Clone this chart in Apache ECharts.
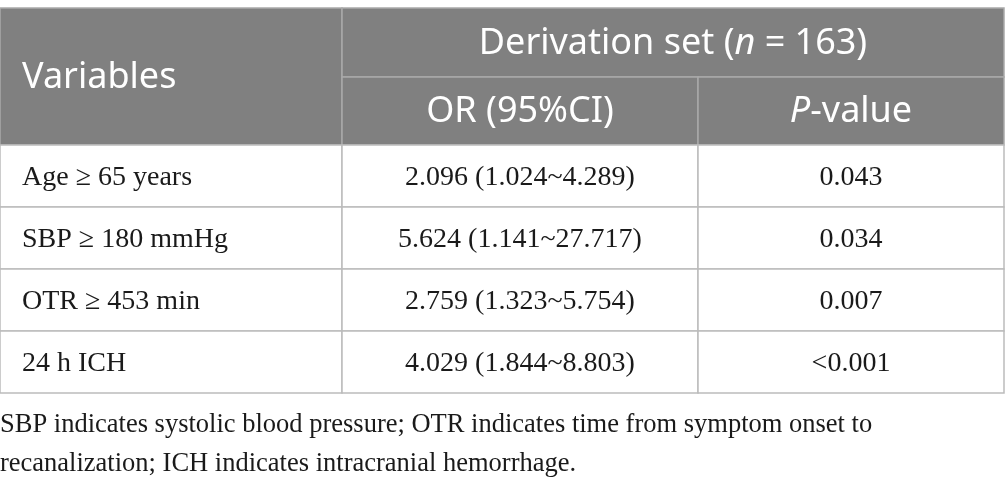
<!DOCTYPE html>
<html>
<head>
<meta charset="utf-8">
<script src="https://cdn.jsdelivr.net/npm/echarts@6/dist/echarts.min.js"></script>
<style>
html,body{margin:0;padding:0;background:#fff;}
#main{width:1005px;height:487px;}
</style>
</head>
<body>
<div id="main"></div>
<script>
// ---- table content ----
const groupHeader = 'Derivation set (n = 163)';
const columnHeaders = ['Variables', 'OR (95%CI)', 'P-value'];
const variables = ['Age \u2265 65 years', 'SBP \u2265 180 mmHg', 'OTR \u2265 453 min', '24 h ICH'];
const orValues = ['2.096', '5.624', '2.759', '4.029'];
const ciLower = ['1.024', '1.141', '1.323', '1.844'];
const ciUpper = ['4.289', '27.717', '5.754', '8.803'];
const pValues = ['0.043', '0.034', '0.007', '<0.001'];
const footnoteLines = [
  'SBP indicates systolic blood pressure; OTR indicates time from symptom onset to',
  'recanalization; ICH indicates intracranial hemorrhage.'
];

// ---- layout (pixel-like axis units) ----
const colEdges = [0, 342, 698, 1004];
const rowEdges = [8, 77, 145, 207, 269, 331, 393];
const headFont = '"Noto Sans", "Open Sans", sans-serif';
const bodyFont = '"Liberation Serif", "Times New Roman", serif';
const headColor = '#808080';
const lineColor = '#bcbcbc';

const cells = [];
cells.push({value: [colEdges[0], colEdges[1], rowEdges[0], rowEdges[2]], kind: 'head', text: '{h|' + columnHeaders[0] + '}', align: 'left'});
cells.push({value: [colEdges[1], colEdges[3], rowEdges[0], rowEdges[1]], kind: 'head', text: '{h|Derivation set (}{hi|n}{h| = 163)}', align: 'center'});
cells.push({value: [colEdges[1], colEdges[2], rowEdges[1], rowEdges[2]], kind: 'head', text: '{h|' + columnHeaders[1] + '}', align: 'center'});
cells.push({value: [colEdges[2], colEdges[3], rowEdges[1], rowEdges[2]], kind: 'head', text: '{hi|P}{h|-value}', align: 'center'});
variables.forEach(function (v, i) {
  const y0 = rowEdges[i + 2], y1 = rowEdges[i + 3];
  cells.push({value: [colEdges[0], colEdges[1], y0, y1], kind: 'body', text: v, align: 'left'});
  cells.push({value: [colEdges[1], colEdges[2], y0, y1], kind: 'body', text: orValues[i] + ' (' + ciLower[i] + '~' + ciUpper[i] + ')', align: 'center'});
  cells.push({value: [colEdges[2], colEdges[3], y0, y1], kind: 'body', text: pValues[i], align: 'center'});
});

function renderCell(params, api) {
  const p0 = api.coord([api.value(0), api.value(2)]);
  const p1 = api.coord([api.value(1), api.value(3)]);
  const item = cells[params.dataIndex];
  const x = p0[0], y = p0[1], w = p1[0] - p0[0], h = p1[1] - p0[1];
  const isHead = item.kind === 'head';
  const tx = item.align === 'left' ? x + 22 : x + w / 2;
  return {
    type: 'group',
    children: [
      {
        type: 'rect',
        shape: {x: x, y: y, width: w, height: h},
        style: {fill: isHead ? headColor : '#ffffff', stroke: isHead ? '#a9a9a9' : lineColor, lineWidth: 1.5}
      },
      {
        type: 'text',
        x: tx,
        y: y + h / 2 + (isHead ? 1 : 2),
        style: isHead ? {
          text: item.text,
          align: item.align,
          verticalAlign: 'middle',
          rich: {
            h: {fontFamily: headFont, fontSize: 36, fill: '#ffffff'},
            hi: {fontFamily: headFont, fontSize: 36, fontStyle: 'italic', fill: '#ffffff'}
          }
        } : {
          text: item.text,
          align: item.align,
          verticalAlign: 'middle',
          fontFamily: bodyFont,
          fontSize: 28,
          fill: '#1a1a1a'
        }
      }
    ]
  };
}

const chart = echarts.init(document.getElementById('main'), null, {renderer: 'canvas'});
chart.setOption({
  backgroundColor: '#ffffff',
  animation: false,
  grid: {left: 0, right: 0, top: 0, bottom: 0},
  xAxis: {type: 'value', min: 0, max: 1005, show: false},
  yAxis: {type: 'value', min: 0, max: 487, inverse: true, show: false},
  series: [{
    type: 'custom',
    renderItem: renderCell,
    data: cells.map(function (c) { return c.value; }),
    silent: true
  }, {
    type: 'custom',
    silent: true,
    data: footnoteLines.map(function (t, i) { return [0, 425 + i * 39]; }),
    renderItem: function (params, api) {
      const p = api.coord([api.value(0), api.value(1)]);
      return {
        type: 'text',
        x: p[0],
        y: p[1],
        style: {
          text: footnoteLines[params.dataIndex],
          align: 'left',
          verticalAlign: 'middle',
          fontFamily: bodyFont,
          fontSize: 26.5,
          fill: '#1a1a1a'
        }
      };
    }
  }]
});
</script>
</body>
</html>
